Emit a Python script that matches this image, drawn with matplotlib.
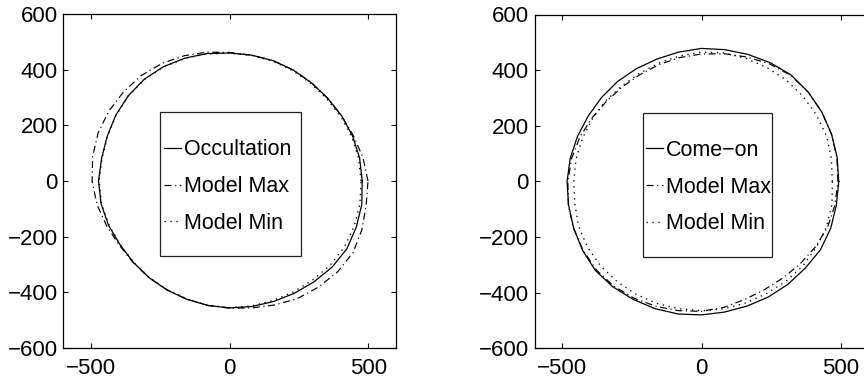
import numpy as np
import matplotlib
matplotlib.use("Agg")
import matplotlib.pyplot as plt
from matplotlib.patches import Rectangle

plt.rcParams['font.family'] = ['Liberation Sans', 'DejaVu Sans']

# Polar angle (degrees) at which each limb radius was sampled
angles_deg = np.arange(0, 360, 10)

# Left panel: occultation limb and the model extremes (radius, km)
occultation_r = [478, 476, 472, 467, 462, 460, 460, 460, 459, 460,
                 465, 470, 475, 478, 477, 474, 470, 469, 473, 471,
                 465, 457, 454, 453, 452, 452, 454, 456, 458, 461,
                 466, 473, 482, 488, 486, 484]
occ_max_r = [499, 488, 475, 467, 462, 460, 460, 460, 459, 462,
             470, 479, 488, 495, 499, 503, 505, 502, 496, 486,
             472, 460, 455, 453, 452, 452, 454, 457, 463, 474,
             488, 498, 508, 514, 508, 500]
occ_min_r = [474, 472, 468, 463, 458, 457, 457, 458, 458, 459,
             464, 469, 474, 477, 476, 473, 469, 467, 471, 469,
             463, 456, 453, 452, 451, 451, 453, 455, 456, 457,
             460, 465, 472, 477, 478, 477]

# Right panel: come-on limb and the model extremes (radius, km)
comeon_r = [493, 495, 497, 499, 500, 500, 493, 486, 481, 478,
            472, 468, 468, 469, 469, 470, 474, 479, 483, 485,
            489, 494, 498, 495, 490, 487, 484, 480, 477, 477,
            480, 483, 486, 493, 494, 492]
come_max_r = [490, 494, 497, 499, 500, 498, 488, 476, 466, 458,
              452, 447, 443, 443, 447, 455, 465, 474, 480, 486,
              490, 492, 494, 491, 485, 478, 472, 467, 460, 452,
              450, 454, 462, 472, 482, 487]
come_min_r = [470, 474, 478, 477, 476, 475, 472, 470, 469, 465,
              458, 452, 448, 447, 450, 452, 455, 458, 459, 462,
              470, 473, 473, 471, 469, 467, 465, 465, 465, 465,
              466, 470, 474, 476, 478, 476]

left_labels = ["Occultation", "Model Max", "Model Min"]
right_labels = ["Come\u2212on", "Model Max", "Model Min"]

x_ticks = [-500, 0, 500]
y_ticks = [-600, -400, -200, 0, 200, 400, 600]


def closed_xy(radii):
    th = np.deg2rad(np.append(angles_deg, angles_deg[0]))
    r = np.append(radii, radii[0])
    return r * np.cos(th), r * np.sin(th)


styles = [
    dict(linestyle='-', linewidth=0.9),
    dict(linestyle=(0, (6, 3, 1, 3)), linewidth=0.85),
    dict(linestyle=(0, (1, 3.5)), linewidth=0.95),
]

W, H = 864, 381
fig = plt.figure(figsize=(W / 100, H / 100), dpi=100)

panels = [
    dict(rect=[63.3, 14, 332.7, 334], curves=[occultation_r, occ_max_r, occ_min_r],
         labels=left_labels, box=(-250, -270, 509, 517), leg_x=-238),
    dict(rect=[534.5, 14.5, 334, 333.8], curves=[comeon_r, come_max_r, come_min_r],
         labels=right_labels, box=(-209, -271, 464, 518), leg_x=-200),
]

for p in panels:
    l, t, w, h = p['rect']
    ax = fig.add_axes([l / W, 1 - (t + h) / H, w / W, h / H])
    handles = []
    for radii, st, lab in zip(p['curves'], styles, p['labels']):
        x, y = closed_xy(radii)
        ln, = ax.plot(x, y, color='black', label=lab, **st)
        handles.append(ln)
    ax.set_xlim(-600, 600)
    ax.set_ylim(-600, 600)
    ax.set_xticks(x_ticks)
    ax.set_yticks(y_ticks)
    ax.set_xticklabels([str(v).replace('-', '\u2212') for v in x_ticks])
    ax.set_yticklabels([str(v).replace('-', '\u2212') for v in y_ticks])
    ax.tick_params(direction='in', length=3.5, width=0.8, top=True, right=True,
                   labelsize=16, colors='black')
    ax.tick_params(axis='x', pad=7)
    ax.tick_params(axis='y', pad=4)
    for s in ax.spines.values():
        s.set_linewidth(0.9)
        s.set_color('black')

    bx, by, bw, bh = p['box']
    ax.add_patch(Rectangle((bx, by), bw, bh, facecolor='white', edgecolor='#222222',
                           linewidth=0.9, zorder=3))
    leg = ax.legend(handles=handles, loc='center left',
                    bbox_to_anchor=(p['leg_x'], by + bh / 2 - 9),
                    bbox_transform=ax.transData, frameon=False, fontsize=15.5,
                    handlelength=0.8, handletextpad=0.15, labelspacing=0.73,
                    borderpad=0.0, borderaxespad=0.0)
    leg.set_zorder(4)

fig.savefig("out.png", dpi=100)
